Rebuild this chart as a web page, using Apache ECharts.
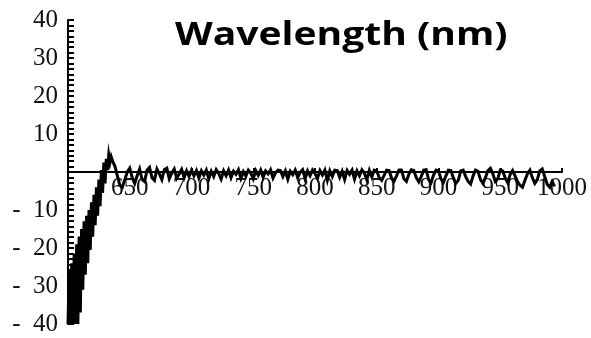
<!DOCTYPE html>
<html>
<head>
<meta charset="utf-8">
<script src="https://cdn.jsdelivr.net/npm/echarts@6/dist/echarts.min.js"></script>
<style>
  html, body { margin: 0; padding: 0; background: #fff; }
  #chart { width: 591px; height: 338px; }
</style>
</head>
<body>
<div id="chart"></div>
<script>
var wavelength = [
  600, 601, 602, 603, 604, 605, 606, 607, 608, 609, 610, 611, 612, 613, 614, 615, 616, 617,
  618, 619, 620, 621, 622, 623, 624, 625, 626, 627, 628, 629, 630, 631, 632, 633, 634, 635,
  636, 638, 640, 642, 644, 646, 648, 650, 652, 654, 656, 658, 660, 662, 664, 666, 668, 670,
  672, 674, 676, 678, 680, 682, 684, 686, 688, 690, 692, 694, 696, 698, 700,
  702, 704, 706, 708, 710, 712, 714, 716, 718, 720, 722, 724, 726, 728, 730, 732, 734, 736, 738, 740,
  742, 744, 746, 748, 750, 752, 754, 756, 758, 760, 762, 764, 766, 768, 770, 772, 774, 776, 778, 780,
  782, 784, 786, 788, 790, 792, 794, 796, 798, 800,
  802, 804, 806, 808, 810, 812, 814, 816, 818, 820, 822, 824, 826, 828, 830, 832, 834, 836, 838, 840,
  842, 844, 846, 848, 850, 852, 854, 856, 858, 860, 862, 864, 866, 868, 870, 872, 874, 876, 878, 880,
  882, 884, 886, 888, 890, 892, 894, 896, 898, 900,
  902, 904, 906, 908, 910, 912, 914, 916, 918, 920, 922, 924, 926, 928, 930, 932, 934, 936, 938, 940,
  942, 944, 946, 948, 950, 952, 954, 956, 958, 960, 962, 964, 966, 968, 970, 972, 974, 976, 978, 980,
  982, 984, 986, 988, 990, 992, 994
];
var signal = [
  -40, -26, -40, -24, -40, -21.5, -40, -19, -40, -17, -37, -15, -31, -13, -27, -11.5, -24, -10,
  -20.5, -8, -17, -6, -14, -4, -11.5, -2, -9, 0.5, -5.5, 2.5, -3, 3.5, 0.5, 4.5, 2.5, 4,
  3, 1.5, -1, -3.5, -4, -2, 0, 1, -1.5, -3, -1, 0.8, -2, -2.5, 0.5, 1.2, -1.5, -2.2,
  0.8, -0.5, -2, 0.6, 1, -1.8, -0.3, 0.8, -1.6, -0.5, 0.7, -1.5, 0.3, -1.2, 0.5,
  -1.0, 0.4, -1.6, 0.3, -0.8, 0.5, -1.8, 0.2, -1.2, 0.6, -0.4, -1.9, 0.3, -1.0, 0.5, -1.5, 0.2, -0.6, 0.6, -1.7,
  0.1, -1.1, 0.5, -0.3, -1.8, 0.4, -0.9, 0.5, -1.4, 0.3, -0.5, 0.6, -1.6, -0.2, 0.5, 0.4, -1.2, 0.3, -1.9, 0.2,
  -0.7, 0.5, -1.5, -0.1, 0.6, -1.8, 0.3, -1.0, 0.5, -0.4,
  -1.7, 0.4, -0.8, 0.5, -2.2, 0.3, -1.2, 0.5, 0.4, -1.4, 0.2, -2.0, 0.4, -0.6, 0.5, -1.9, 0.3, -1.0, 0.6, -0.3,
  -2.1, 0.4, -1.3, 0.5, 0.3, -1.5, -2.2, -0.8, 0.5, 0.4, -1.6, -2.4, -1.0, 0.5, 0.5, -1.8, -2.5, -0.6, 0.6, 0.4,
  -1.5, -2.6, -1.2, 0.5, 0.6, -2.0, -2.8, -0.8, 0.5, 0.3,
  -1.8, -2.7, -1.0, 0.5, 0.4, -1.5, -3.0, -2.2, 0.3, 0.5, -1.2, -2.5, -3.2, -1.0, 0.5, 0.2, -2.0, -3.0, -1.5, 0.4,
  1.0, -0.5, -2.5, -1.8, 0.5, 0.3, -1.6, -2.8, -0.7, 0.4, -1.0, -2.5, -3.5, -4.0, -2.2, -0.5, 0.5, -1.5, -3.0, -2.0,
  0.3, 0.8, -1.2, -3.2, -4.0, -2.5, -3.8
];
var titleText = 'Wavelength (nm)';

var chart = echarts.init(document.getElementById('chart'));

var tickFont = {
  fontFamily: 'Liberation Serif',
  fontSize: 25,
  color: '#111'
};

// plot box: y from 20 to 324, so zero sits at 172
var gridTop = 20;
var gridBottom = 14;
var zeroOffset = -(338 - gridTop - gridBottom) / 2;

var option = {
  backgroundColor: '#fff',
  animation: false,
  graphic: [{
    type: 'text',
    x: 175,
    y: 36,
    scaleX: 1.22,
    style: {
      text: titleText,
      font: 'bold 32px "Open Sans"',
      fill: '#000',
      textAlign: 'left',
      textVerticalAlign: 'middle'
    }
  }],
  grid: {
    left: 68,
    right: 29,
    top: gridTop,
    bottom: gridBottom,
    outerBoundsMode: 'none'
  },
  xAxis: {
    type: 'value',
    min: 600,
    max: 1000,
    interval: 50,
    offset: zeroOffset,
    axisLine: {
      onZero: false,
      lineStyle: { color: '#000', width: 2 }
    },
    axisTick: {
      show: true,
      inside: true,
      length: 4,
      lineStyle: { color: '#000', width: 2 }
    },
    splitLine: { show: false },
    axisLabel: {
      margin: 4,
      fontFamily: tickFont.fontFamily,
      fontSize: tickFont.fontSize,
      color: tickFont.color,
      formatter: function (v) { return v === 600 ? '' : String(v); }
    }
  },
  yAxis: {
    type: 'value',
    min: -40,
    max: 40,
    interval: 10,
    axisLine: {
      show: true,
      onZero: false,
      lineStyle: { color: '#000', width: 2 }
    },
    axisTick: {
      show: true,
      inside: true,
      length: 6,
      lineStyle: { color: '#000', width: 2 }
    },
    minorTick: {
      show: true,
      splitNumber: 7,
      length: 6,
      lineStyle: { color: '#000', width: 2 }
    },
    splitLine: { show: false },
    axisLabel: {
      margin: 10,
      fontFamily: tickFont.fontFamily,
      fontSize: tickFont.fontSize,
      color: tickFont.color,
      formatter: function (v) {
        if (v === 0) return '';
        if (v < 0) return '-  ' + (-v);
        return String(v);
      }
    }
  },
  series: [{
    type: 'line',
    data: wavelength.map(function (w, i) { return [w, signal[i]]; }),
    symbol: 'none',
    clip: true,
    lineStyle: { color: '#000', width: 3, join: 'miter' },
    silent: true
  }]
};

chart.setOption(option);
</script>
</body>
</html>
